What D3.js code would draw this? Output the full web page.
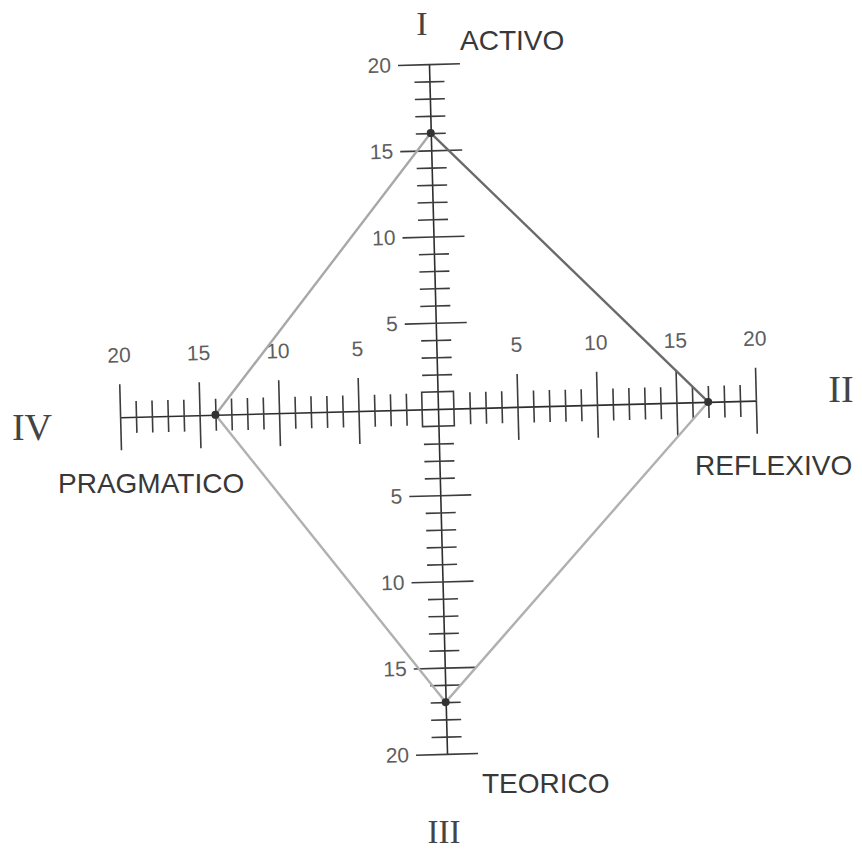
<!DOCTYPE html>
<html>
<head>
<meta charset="utf-8">
<script src="https://cdn.jsdelivr.net/npm/d3@7"></script>
<style>
  html, body { margin: 0; padding: 0; background: #ffffff; }
  svg { display: block; }
</style>
</head>
<body>
<svg id="chart" width="862" height="852"></svg>
<script>
// ---- data ----
const categories = ["ACTIVO", "REFLEXIVO", "TEORICO", "PRAGMATICO"];
const values = [16, 17, 17, 14];
const quadrants = ["I", "II", "III", "IV"];
const majorTicks = [-20, -15, -10, -5, 5, 10, 15, 20];
const minorTicks = d3.range(-19, 20).filter(d => d % 5 !== 0 && Math.abs(d) > 1);
const axisMax = 20;

// ---- layout ----
const W = 862, H = 852;
const cx = 438, cy = 409;
const svg = d3.select("#chart");
svg.append("rect").attr("width", W).attr("height", H).attr("fill", "#fff");

const x = d3.scaleLinear().domain([-axisMax, axisMax]).range([cx - 318, cx + 318]);
const y = d3.scaleLinear().domain([-axisMax, axisMax]).range([cy + 345, cy - 345]);

const g = svg.append("g").attr("transform", `rotate(-1.5, ${cx}, ${cy})`);

function styleAxis(sel, keepDomain) {
  if (!keepDomain) sel.select(".domain").remove();
  sel.selectAll("line").attr("stroke", "#3c3c3c").attr("stroke-width", 1.6);
  sel.select(".domain").attr("stroke", "#2e2e2e").attr("stroke-width", 1.6);
  sel.selectAll("text")
    .attr("font-family", "'Liberation Sans', Arial, sans-serif")
    .attr("font-size", 21)
    .attr("fill", "#5e5e5e");
}

// vertical axis
const gV = g.append("g").attr("transform", `translate(${x(0)},0)`);
gV.append("g").call(d3.axisLeft(y).tickValues(minorTicks).tickSize(15).tickSizeOuter(0).tickFormat("")).call(s => styleAxis(s, true));
gV.append("g").call(d3.axisRight(y).tickValues(minorTicks).tickSize(15).tickSizeOuter(0).tickFormat("")).call(s => styleAxis(s, false));
gV.append("g").call(d3.axisLeft(y).tickValues(majorTicks).tickSize(31).tickSizeOuter(0).tickPadding(7).tickFormat(d => Math.abs(d))).call(s => styleAxis(s, false));
gV.append("g").call(d3.axisRight(y).tickValues(majorTicks).tickSize(31).tickSizeOuter(0).tickFormat("")).call(s => styleAxis(s, false));

// horizontal axis
const gH = g.append("g").attr("transform", `translate(0,${y(0)})`);
gH.append("g").call(d3.axisTop(x).tickValues(minorTicks).tickSize(16).tickSizeOuter(0).tickFormat("")).call(s => styleAxis(s, true));
gH.append("g").call(d3.axisBottom(x).tickValues(minorTicks).tickSize(16).tickSizeOuter(0).tickFormat("")).call(s => styleAxis(s, false));
gH.append("g").call(d3.axisTop(x).tickValues(majorTicks).tickSize(33).tickSizeOuter(0).tickPadding(22).tickFormat(d => Math.abs(d))).call(s => styleAxis(s, false));
gH.append("g").call(d3.axisBottom(x).tickValues(majorTicks).tickSize(33).tickSizeOuter(0).tickFormat("")).call(s => styleAxis(s, false));

// centre square
g.append("rect")
  .attr("x", x(-1)).attr("y", y(1))
  .attr("width", x(1) - x(-1)).attr("height", y(-1) - y(1))
  .attr("fill", "none").attr("stroke", "#3c3c3c").attr("stroke-width", 1.6);

// data points (directions: up, right, down, left)
const dirs = [[0, 1], [1, 0], [0, -1], [-1, 0]];
const pts = values.map((v, i) => [x(dirs[i][0] * v), y(dirs[i][1] * v)]);

const segColors = ["#6a6a6a", "#b0b0b0", "#b0b0b0", "#a8a8a8"];
const line = d3.line();
pts.forEach((p, i) => {
  const q = pts[(i + 1) % pts.length];
  g.append("path")
    .attr("d", line([p, q]))
    .attr("fill", "none")
    .attr("stroke", segColors[i])
    .attr("stroke-width", 2.4);
});
g.selectAll("circle.pt").data(pts).enter().append("circle")
  .attr("class", "pt")
  .attr("cx", d => d[0]).attr("cy", d => d[1])
  .attr("r", 4).attr("fill", "#333");

// category labels
const catPos = [[460, 50], [695, 475], [482, 793], [58, 493]];
svg.selectAll("text.cat").data(categories).enter().append("text")
  .attr("class", "cat")
  .attr("x", (d, i) => catPos[i][0]).attr("y", (d, i) => catPos[i][1])
  .attr("font-family", "'Liberation Sans', Arial, sans-serif")
  .attr("font-size", 28)
  .attr("fill", "#383838")
  .text(d => d);

// quadrant roman numerals
const quadPos = [[422, 35, 34], [841, 402, 38], [444, 843, 33], [32, 440, 38]];
svg.selectAll("text.quad").data(quadrants).enter().append("text")
  .attr("class", "quad")
  .attr("x", (d, i) => quadPos[i][0]).attr("y", (d, i) => quadPos[i][1])
  .attr("text-anchor", "middle")
  .attr("font-family", "'Liberation Serif', 'DejaVu Serif', serif")
  .attr("font-size", (d, i) => quadPos[i][2])
  .attr("fill", "#444")
  .text(d => d);
</script>
</body>
</html>
